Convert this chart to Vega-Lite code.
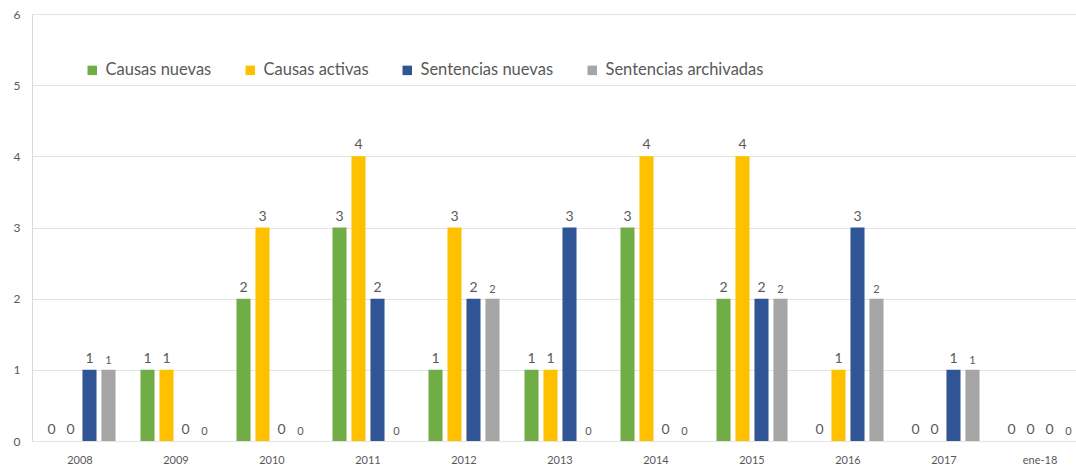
{
  "$schema": "https://vega.github.io/schema/vega-lite/v6.json",
  "autosize": {"type": "none"},
  "padding": {"left": 32, "top": 14, "right": 0, "bottom": 28},
  "width": 1044,
  "height": 427,
  "background": "white",
  "config": {
    "font": "Lato",
    "view": {"stroke": null}
  },
  "data": {
    "values": [
      {"periodo": "2008", "serie": "Causas nuevas", "valor": 0},
      {"periodo": "2008", "serie": "Causas activas", "valor": 0},
      {"periodo": "2008", "serie": "Sentencias nuevas", "valor": 1},
      {"periodo": "2008", "serie": "Sentencias archivadas", "valor": 1},
      {"periodo": "2009", "serie": "Causas nuevas", "valor": 1},
      {"periodo": "2009", "serie": "Causas activas", "valor": 1},
      {"periodo": "2009", "serie": "Sentencias nuevas", "valor": 0},
      {"periodo": "2009", "serie": "Sentencias archivadas", "valor": 0},
      {"periodo": "2010", "serie": "Causas nuevas", "valor": 2},
      {"periodo": "2010", "serie": "Causas activas", "valor": 3},
      {"periodo": "2010", "serie": "Sentencias nuevas", "valor": 0},
      {"periodo": "2010", "serie": "Sentencias archivadas", "valor": 0},
      {"periodo": "2011", "serie": "Causas nuevas", "valor": 3},
      {"periodo": "2011", "serie": "Causas activas", "valor": 4},
      {"periodo": "2011", "serie": "Sentencias nuevas", "valor": 2},
      {"periodo": "2011", "serie": "Sentencias archivadas", "valor": 0},
      {"periodo": "2012", "serie": "Causas nuevas", "valor": 1},
      {"periodo": "2012", "serie": "Causas activas", "valor": 3},
      {"periodo": "2012", "serie": "Sentencias nuevas", "valor": 2},
      {"periodo": "2012", "serie": "Sentencias archivadas", "valor": 2},
      {"periodo": "2013", "serie": "Causas nuevas", "valor": 1},
      {"periodo": "2013", "serie": "Causas activas", "valor": 1},
      {"periodo": "2013", "serie": "Sentencias nuevas", "valor": 3},
      {"periodo": "2013", "serie": "Sentencias archivadas", "valor": 0},
      {"periodo": "2014", "serie": "Causas nuevas", "valor": 3},
      {"periodo": "2014", "serie": "Causas activas", "valor": 4},
      {"periodo": "2014", "serie": "Sentencias nuevas", "valor": 0},
      {"periodo": "2014", "serie": "Sentencias archivadas", "valor": 0},
      {"periodo": "2015", "serie": "Causas nuevas", "valor": 2},
      {"periodo": "2015", "serie": "Causas activas", "valor": 4},
      {"periodo": "2015", "serie": "Sentencias nuevas", "valor": 2},
      {"periodo": "2015", "serie": "Sentencias archivadas", "valor": 2},
      {"periodo": "2016", "serie": "Causas nuevas", "valor": 0},
      {"periodo": "2016", "serie": "Causas activas", "valor": 1},
      {"periodo": "2016", "serie": "Sentencias nuevas", "valor": 3},
      {"periodo": "2016", "serie": "Sentencias archivadas", "valor": 2},
      {"periodo": "2017", "serie": "Causas nuevas", "valor": 0},
      {"periodo": "2017", "serie": "Causas activas", "valor": 0},
      {"periodo": "2017", "serie": "Sentencias nuevas", "valor": 1},
      {"periodo": "2017", "serie": "Sentencias archivadas", "valor": 1},
      {"periodo": "ene-18", "serie": "Causas nuevas", "valor": 0},
      {"periodo": "ene-18", "serie": "Causas activas", "valor": 0},
      {"periodo": "ene-18", "serie": "Sentencias nuevas", "valor": 0},
      {"periodo": "ene-18", "serie": "Sentencias archivadas", "valor": 0}
    ]
  },
  "encoding": {
    "x": {
      "field": "periodo", "type": "nominal", "sort": null, "title": null,
      "scale": {"range": [0, 1056], "paddingInner": 0.26, "paddingOuter": 0.13},
      "axis": {"labelAngle": 0, "ticks": false, "domain": false, "labelFontSize": 11, "labelColor": "#595959", "labelPadding": 13}
    },
    "xOffset": {
      "field": "serie", "type": "nominal", "sort": ["Causas nuevas", "Causas activas", "Sentencias nuevas", "Sentencias archivadas"],
      "scale": {"domain": ["Causas nuevas", "Causas activas", "Sentencias nuevas", "Sentencias archivadas"], "paddingInner": 0.26, "paddingOuter": 0}
    },
    "y": {
      "field": "valor", "type": "quantitative", "title": null,
      "scale": {"domain": [0, 6], "nice": false},
      "axis": {"tickCount": 6, "ticks": false, "domain": true, "domainColor": "#D9D9D9", "gridColor": "#E3E3E3", "labelFontSize": 12, "labelColor": "#595959", "labelPadding": 12}
    }
  },
  "layer": [
    {
      "mark": {"type": "bar"},
      "encoding": {
        "color": {
          "field": "serie", "type": "nominal",
          "sort": ["Causas nuevas", "Causas activas", "Sentencias nuevas", "Sentencias archivadas"],
          "scale": {
            "domain": ["Causas nuevas", "Causas activas", "Sentencias nuevas", "Sentencias archivadas"],
            "range": ["#70AD47", "#FFC000", "#2F5597", "#A5A5A5"]
          },
          "legend": {
            "title": null, "orient": "none", "direction": "horizontal",
            "legendX": 52, "legendY": 48,
            "symbolType": "square", "symbolSize": 90, "symbolStrokeWidth": 0,
            "labelFontSize": 16.5, "labelColor": "#595959", "labelOffset": 5,
            "columnPadding": 30
          }
        }
      }
    },
    {
      "transform": [{"filter": "datum.serie !== 'Sentencias archivadas'"}],
      "mark": {"type": "text", "baseline": "bottom", "dy": -4, "color": "#595959", "fontSize": 14},
      "encoding": {
        "text": {"field": "valor", "type": "quantitative"}
      }
    },
    {
      "transform": [{"filter": "datum.serie === 'Sentencias archivadas'"}],
      "mark": {"type": "text", "baseline": "bottom", "dy": -4, "color": "#595959", "fontSize": 11},
      "encoding": {
        "text": {"field": "valor", "type": "quantitative"}
      }
    }
  ]
}
